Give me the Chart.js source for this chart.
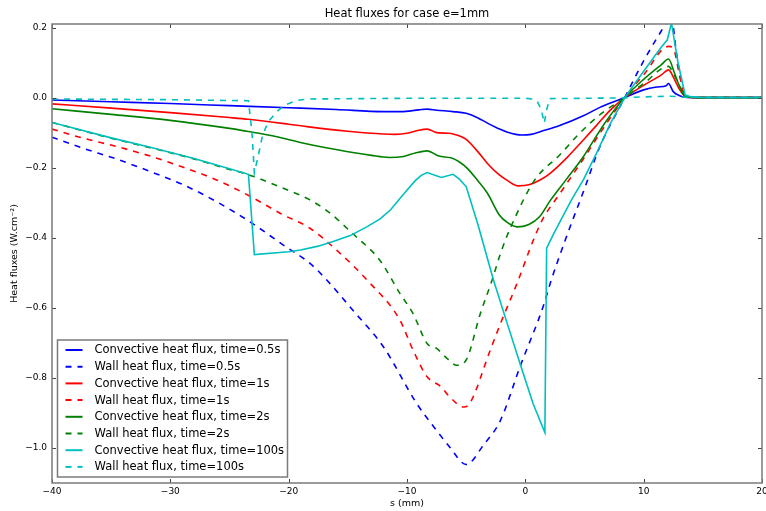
<!DOCTYPE html>
<html>
<head>
<meta charset="utf-8">
<script src="https://cdn.jsdelivr.net/npm/chart.js@4"></script>
<style>
  html, body { margin: 0; padding: 0; background: #fff; }
  #heatChart { display: block; }
</style>
</head>
<body>
<canvas id="heatChart" width="766" height="511"></canvas>
<script>
// [s (mm), flux] pairs
const convective05 = [[-40,-0.007],[-35,-0.012],[-30,-0.017],[-25,-0.023],[-20,-0.029],[-16,-0.034],[-12,-0.040],[-10.5,-0.040],[-9,-0.035],[-8.3,-0.033],[-7.5,-0.036],[-6.1,-0.040],[-5,-0.045],[-4,-0.058],[-3.2,-0.073],[-2.3,-0.088],[-1.5,-0.099],[-0.3,-0.107],[0.5,-0.105],[1.3,-0.097],[2.9,-0.080],[4.9,-0.052],[6.3,-0.028],[7.3,-0.014],[8.4,0.0],[10,0.022],[11.1,0.030],[11.9,0.034],[12.1,0.040],[12.5,0.017],[13.0,0.006],[13.5,0.001],[14.5,0],[20,0]];
const wall05 = [[-40,-0.113],[-37.35,-0.145],[-34.5,-0.176],[-31.7,-0.211],[-28.9,-0.249],[-26.1,-0.297],[-23.3,-0.354],[-20.45,-0.421],[-18.2,-0.473],[-16.8,-0.520],[-14.5,-0.610],[-12,-0.711],[-9.2,-0.872],[-7.5,-0.950],[-6.4,-0.997],[-5.0,-1.047],[-3.5,-0.990],[-2.1,-0.921],[-0.45,-0.768],[1.5,-0.597],[2.2,-0.520],[3.5,-0.395],[5,-0.260],[6.3,-0.140],[8.4,0.0],[10,0.105],[11.9,0.213],[12.3,0.235],[12.8,0.120],[13.5,0.005],[14.5,0],[20,0]];
const convective1 = [[-40,-0.018],[-35,-0.030],[-30,-0.043],[-25,-0.057],[-23.4,-0.062],[-20,-0.076],[-18.45,-0.083],[-15,-0.096],[-12,-0.104],[-11,-0.105],[-10,-0.102],[-9,-0.093],[-8.3,-0.090],[-7.5,-0.100],[-6.5,-0.102],[-6.1,-0.104],[-5,-0.119],[-4,-0.155],[-3.2,-0.188],[-2.3,-0.218],[-1.5,-0.237],[-0.6,-0.252],[0.3,-0.249],[1.2,-0.236],[2.1,-0.216],[3.5,-0.172],[4.9,-0.121],[6.0,-0.080],[7.2,-0.035],[8.4,0.0],[10,0.035],[11.5,0.065],[12.1,0.079],[12.6,0.052],[13.0,0.025],[13.5,0.004],[14.5,0],[20,0]];
const wall1 = [[-40,-0.090],[-37.35,-0.116],[-34.5,-0.140],[-31.7,-0.167],[-28.9,-0.199],[-26.1,-0.235],[-23.3,-0.281],[-20.45,-0.335],[-18.2,-0.373],[-15.8,-0.440],[-13.4,-0.520],[-10.6,-0.635],[-9.5,-0.720],[-8.3,-0.797],[-7.1,-0.826],[-6.4,-0.854],[-5.2,-0.883],[-4.7,-0.873],[-3.0,-0.724],[-2.1,-0.645],[-0.7,-0.530],[0.7,-0.405],[1.5,-0.345],[2.9,-0.275],[3.5,-0.245],[5,-0.170],[6.3,-0.102],[8.4,0.0],[10,0.065],[12.1,0.146],[12.5,0.141],[13.0,0.070],[13.5,0.003],[14.5,0],[20,0]];
const convective2 = [[-40,-0.032],[-35,-0.048],[-30,-0.065],[-25,-0.088],[-23.4,-0.097],[-21,-0.112],[-19,-0.128],[-16,-0.148],[-13,-0.165],[-11.5,-0.171],[-10.3,-0.168],[-9.3,-0.158],[-8.3,-0.152],[-7.3,-0.167],[-6.3,-0.172],[-5.6,-0.183],[-4.9,-0.202],[-4.0,-0.238],[-3.2,-0.273],[-2.2,-0.335],[-1.5,-0.357],[-0.7,-0.369],[0.3,-0.362],[1.2,-0.340],[2.1,-0.294],[3.5,-0.232],[4.9,-0.169],[6.0,-0.110],[6.9,-0.064],[8.4,0.0],[10,0.052],[11.5,0.094],[12.1,0.110],[12.6,0.070],[13.0,0.035],[13.5,0.004],[14.5,0],[20,0]];
const wall2 = [[-40,-0.071],[-35,-0.116],[-31.7,-0.143],[-28,-0.175],[-25,-0.205],[-23.4,-0.220],[-20.45,-0.259],[-18.2,-0.292],[-16.5,-0.330],[-14.6,-0.388],[-12.3,-0.464],[-10.6,-0.559],[-9.5,-0.616],[-8.3,-0.702],[-7.5,-0.716],[-6.6,-0.745],[-5.8,-0.764],[-5.0,-0.749],[-3.8,-0.616],[-2.8,-0.520],[-2.1,-0.445],[-1.3,-0.375],[0.8,-0.235],[2.9,-0.164],[4.5,-0.105],[6.3,-0.049],[8.4,0.0],[10,0.040],[12.1,0.089],[12.5,0.070],[13.0,0.035],[13.5,0.003],[14.5,0],[20,0]];
const convective100 = [[-40,-0.071],[-35,-0.115],[-31.7,-0.142],[-28,-0.174],[-25,-0.203],[-23.4,-0.219],[-22.9,-0.448],[-20,-0.440],[-19,-0.435],[-17.5,-0.424],[-16.25,-0.411],[-14.8,-0.394],[-13.4,-0.369],[-12.3,-0.347],[-11.4,-0.321],[-10.6,-0.288],[-9.9,-0.260],[-9.3,-0.237],[-8.8,-0.222],[-8.3,-0.214],[-7.1,-0.228],[-6.1,-0.219],[-5.6,-0.232],[-5.0,-0.254],[-4.0,-0.363],[-2.7,-0.520],[-1.5,-0.648],[-0.45,-0.759],[0.65,-0.873],[1.65,-0.956],[1.8,-0.430],[2.4,-0.388],[3.9,-0.292],[4.9,-0.235],[6,-0.160],[7.2,-0.073],[8.4,0.0],[10,0.075],[11.4,0.140],[12.0,0.165],[12.35,0.213],[12.9,0.100],[13.5,0.008],[14,0.002],[15,0],[20,0]];
const wall100 = [[-40,-0.004],[-30,-0.006],[-23.4,-0.009],[-23.1,-0.100],[-22.9,-0.215],[-22.6,-0.170],[-22.2,-0.107],[-21.9,-0.083],[-21.6,-0.064],[-21.0,-0.040],[-20.3,-0.021],[-19.3,-0.008],[-18.4,-0.004],[-10,-0.002],[0,-0.002],[0.6,-0.004],[1.0,-0.010],[1.35,-0.035],[1.6,-0.073],[1.8,-0.035],[2.05,-0.003],[8,-0.001],[10,0.002],[12.3,0.004],[13.5,0.001],[20,0]];

const seriesLabels = [
    'Convective heat flux, time=0.5s', 'Wall heat flux, time=0.5s',
    'Convective heat flux, time=1s', 'Wall heat flux, time=1s',
    'Convective heat flux, time=2s', 'Wall heat flux, time=2s',
    'Convective heat flux, time=100s', 'Wall heat flux, time=100s'
];
const seriesData = [convective05, wall05, convective1, wall1, convective2, wall2, convective100, wall100];
const seriesColors = ['#0000ff', '#0000ff', '#ff0000', '#ff0000', '#008000', '#008000', '#00bfbf', '#00bfbf'];

const xTicks = [-40, -30, -20, -10, 0, 10, 20];
const yTicks = [0.2, 0.0, -0.2, -0.4, -0.6, -0.8, -1.0];
const chartTitle = 'Heat fluxes for case e=1mm';

const FONT = '"DejaVu Sans", sans-serif';
Chart.defaults.font.family = FONT;
Chart.defaults.color = '#000';

function minusSign(txt) {
    return txt.replace('-', '\u2212');
}

// title centred over the axes, not the whole canvas
const axesTitle = {
    id: 'axesTitle',
    afterDraw(chart) {
        const { ctx, chartArea: a } = chart;
        ctx.save();
        ctx.font = '11.5px ' + FONT;
        ctx.fillStyle = '#000';
        ctx.textAlign = 'center';
        ctx.textBaseline = 'middle';
        ctx.fillText(chartTitle, (a.left + a.right) / 2, 14.5);
        ctx.restore();
    }
};

// inward ticks on all four sides plus the grey frame
const frameTicks = {
    id: 'frameTicks',
    afterDatasetsDraw(chart) {
        const { ctx, chartArea: a, scales } = chart;
        ctx.save();
        ctx.strokeStyle = '#444';
        ctx.lineWidth = 1;
        ctx.beginPath();
        xTicks.forEach(v => {
            const px = Math.round(scales.x.getPixelForValue(v)) + 0.5;
            ctx.moveTo(px, a.bottom); ctx.lineTo(px, a.bottom - 4);
            ctx.moveTo(px, a.top); ctx.lineTo(px, a.top + 4);
        });
        yTicks.forEach(v => {
            const py = Math.round(scales.y.getPixelForValue(v)) + 0.5;
            ctx.moveTo(a.left, py); ctx.lineTo(a.left + 4, py);
            ctx.moveTo(a.right, py); ctx.lineTo(a.right - 4, py);
        });
        ctx.stroke();
        ctx.strokeStyle = '#7a7a7a';
        ctx.lineWidth = 1.5;
        ctx.strokeRect(a.left, a.top, a.right - a.left, a.bottom - a.top);
        ctx.restore();
    }
};

// matplotlib style legend box, lower left
const boxLegend = {
    id: 'boxLegend',
    afterDatasetsDraw(chart) {
        const { ctx, chartArea: a } = chart;
        const w = 230, h = 137;
        const left = a.left + 5.5;
        const top = a.bottom - 6 - h;
        ctx.save();
        ctx.fillStyle = '#fff';
        ctx.fillRect(left, top, w, h);
        ctx.strokeStyle = '#7a7a7a';
        ctx.lineWidth = 1.5;
        ctx.strokeRect(left, top, w, h);
        ctx.font = '11.5px ' + FONT;
        ctx.textBaseline = 'middle';
        chart.data.datasets.forEach((ds, i) => {
            const y = top + 10 + i * 16.7;
            ctx.strokeStyle = ds.borderColor;
            ctx.lineWidth = 2;
            ctx.setLineDash(ds.borderDash || []);
            ctx.beginPath();
            ctx.moveTo(left + 8, y);
            ctx.lineTo(left + 25, y);
            ctx.stroke();
            ctx.setLineDash([]);
            ctx.fillStyle = '#000';
            ctx.fillText(ds.label, left + 37, y + 0.5);
        });
        ctx.restore();
    }
};

const datasets = seriesData.map((pts, i) => ({
    label: seriesLabels[i],
    data: pts.map(p => ({ x: p[0], y: p[1] })),
    borderColor: seriesColors[i],
    backgroundColor: seriesColors[i],
    borderWidth: 1.6,
    borderDash: i % 2 === 1 ? [6, 6] : [],
    pointRadius: 0,
    fill: false,
    // the 100s curves have sharp jumps, keep them straight
    cubicInterpolationMode: i >= 6 ? 'default' : 'monotone',
    tension: 0,
    order: seriesData.length - i   // later series on top, like matplotlib
}));

new Chart(document.getElementById('heatChart').getContext('2d'), {
    type: 'line',
    data: { datasets: datasets },
    options: {
        responsive: false,
        animation: false,
        devicePixelRatio: 1,
        layout: { padding: { left: 0, right: 4, top: 24, bottom: 0 }, autoPadding: false },
        plugins: {
            legend: { display: false },
            tooltip: { enabled: false },
            title: { display: false }
        },
        scales: {
            x: {
                type: 'linear',
                min: -40,
                max: 20,
                afterBuildTicks: s => { s.ticks = xTicks.map(v => ({ value: v })); },
                afterFit: s => { s.height = 28; s.paddingLeft = 0; s.paddingRight = 0; },
                grid: { display: false, drawTicks: false },
                border: { display: false },
                ticks: {
                    autoSkip: false,
                    maxRotation: 0,
                    padding: 3,
                    color: '#000',
                    font: { size: 9 },
                    callback: v => minusSign(String(v))
                },
                title: {
                    display: true,
                    text: 's (mm)',
                    color: '#000',
                    font: { size: 9.5 },
                    padding: { top: 0, bottom: 2 }
                }
            },
            y: {
                type: 'linear',
                min: -1.1,
                max: 0.21,
                afterBuildTicks: s => { s.ticks = yTicks.map(v => ({ value: v })); },
                afterFit: s => { s.width = 52; s.paddingTop = 0; s.paddingBottom = 0; },
                grid: { display: false, drawTicks: false },
                border: { display: false },
                ticks: {
                    autoSkip: false,
                    padding: 5,
                    color: '#000',
                    font: { size: 9 },
                    callback: v => minusSign(Number(v).toFixed(1))
                },
                title: {
                    display: true,
                    text: 'Heat fluxes (W.cm\u207B\u00B2)',
                    color: '#000',
                    font: { size: 9.5 },
                    padding: { top: 9, bottom: 0 }
                }
            }
        }
    },
    plugins: [frameTicks, boxLegend, axesTitle]
});
</script>
</body>
</html>
